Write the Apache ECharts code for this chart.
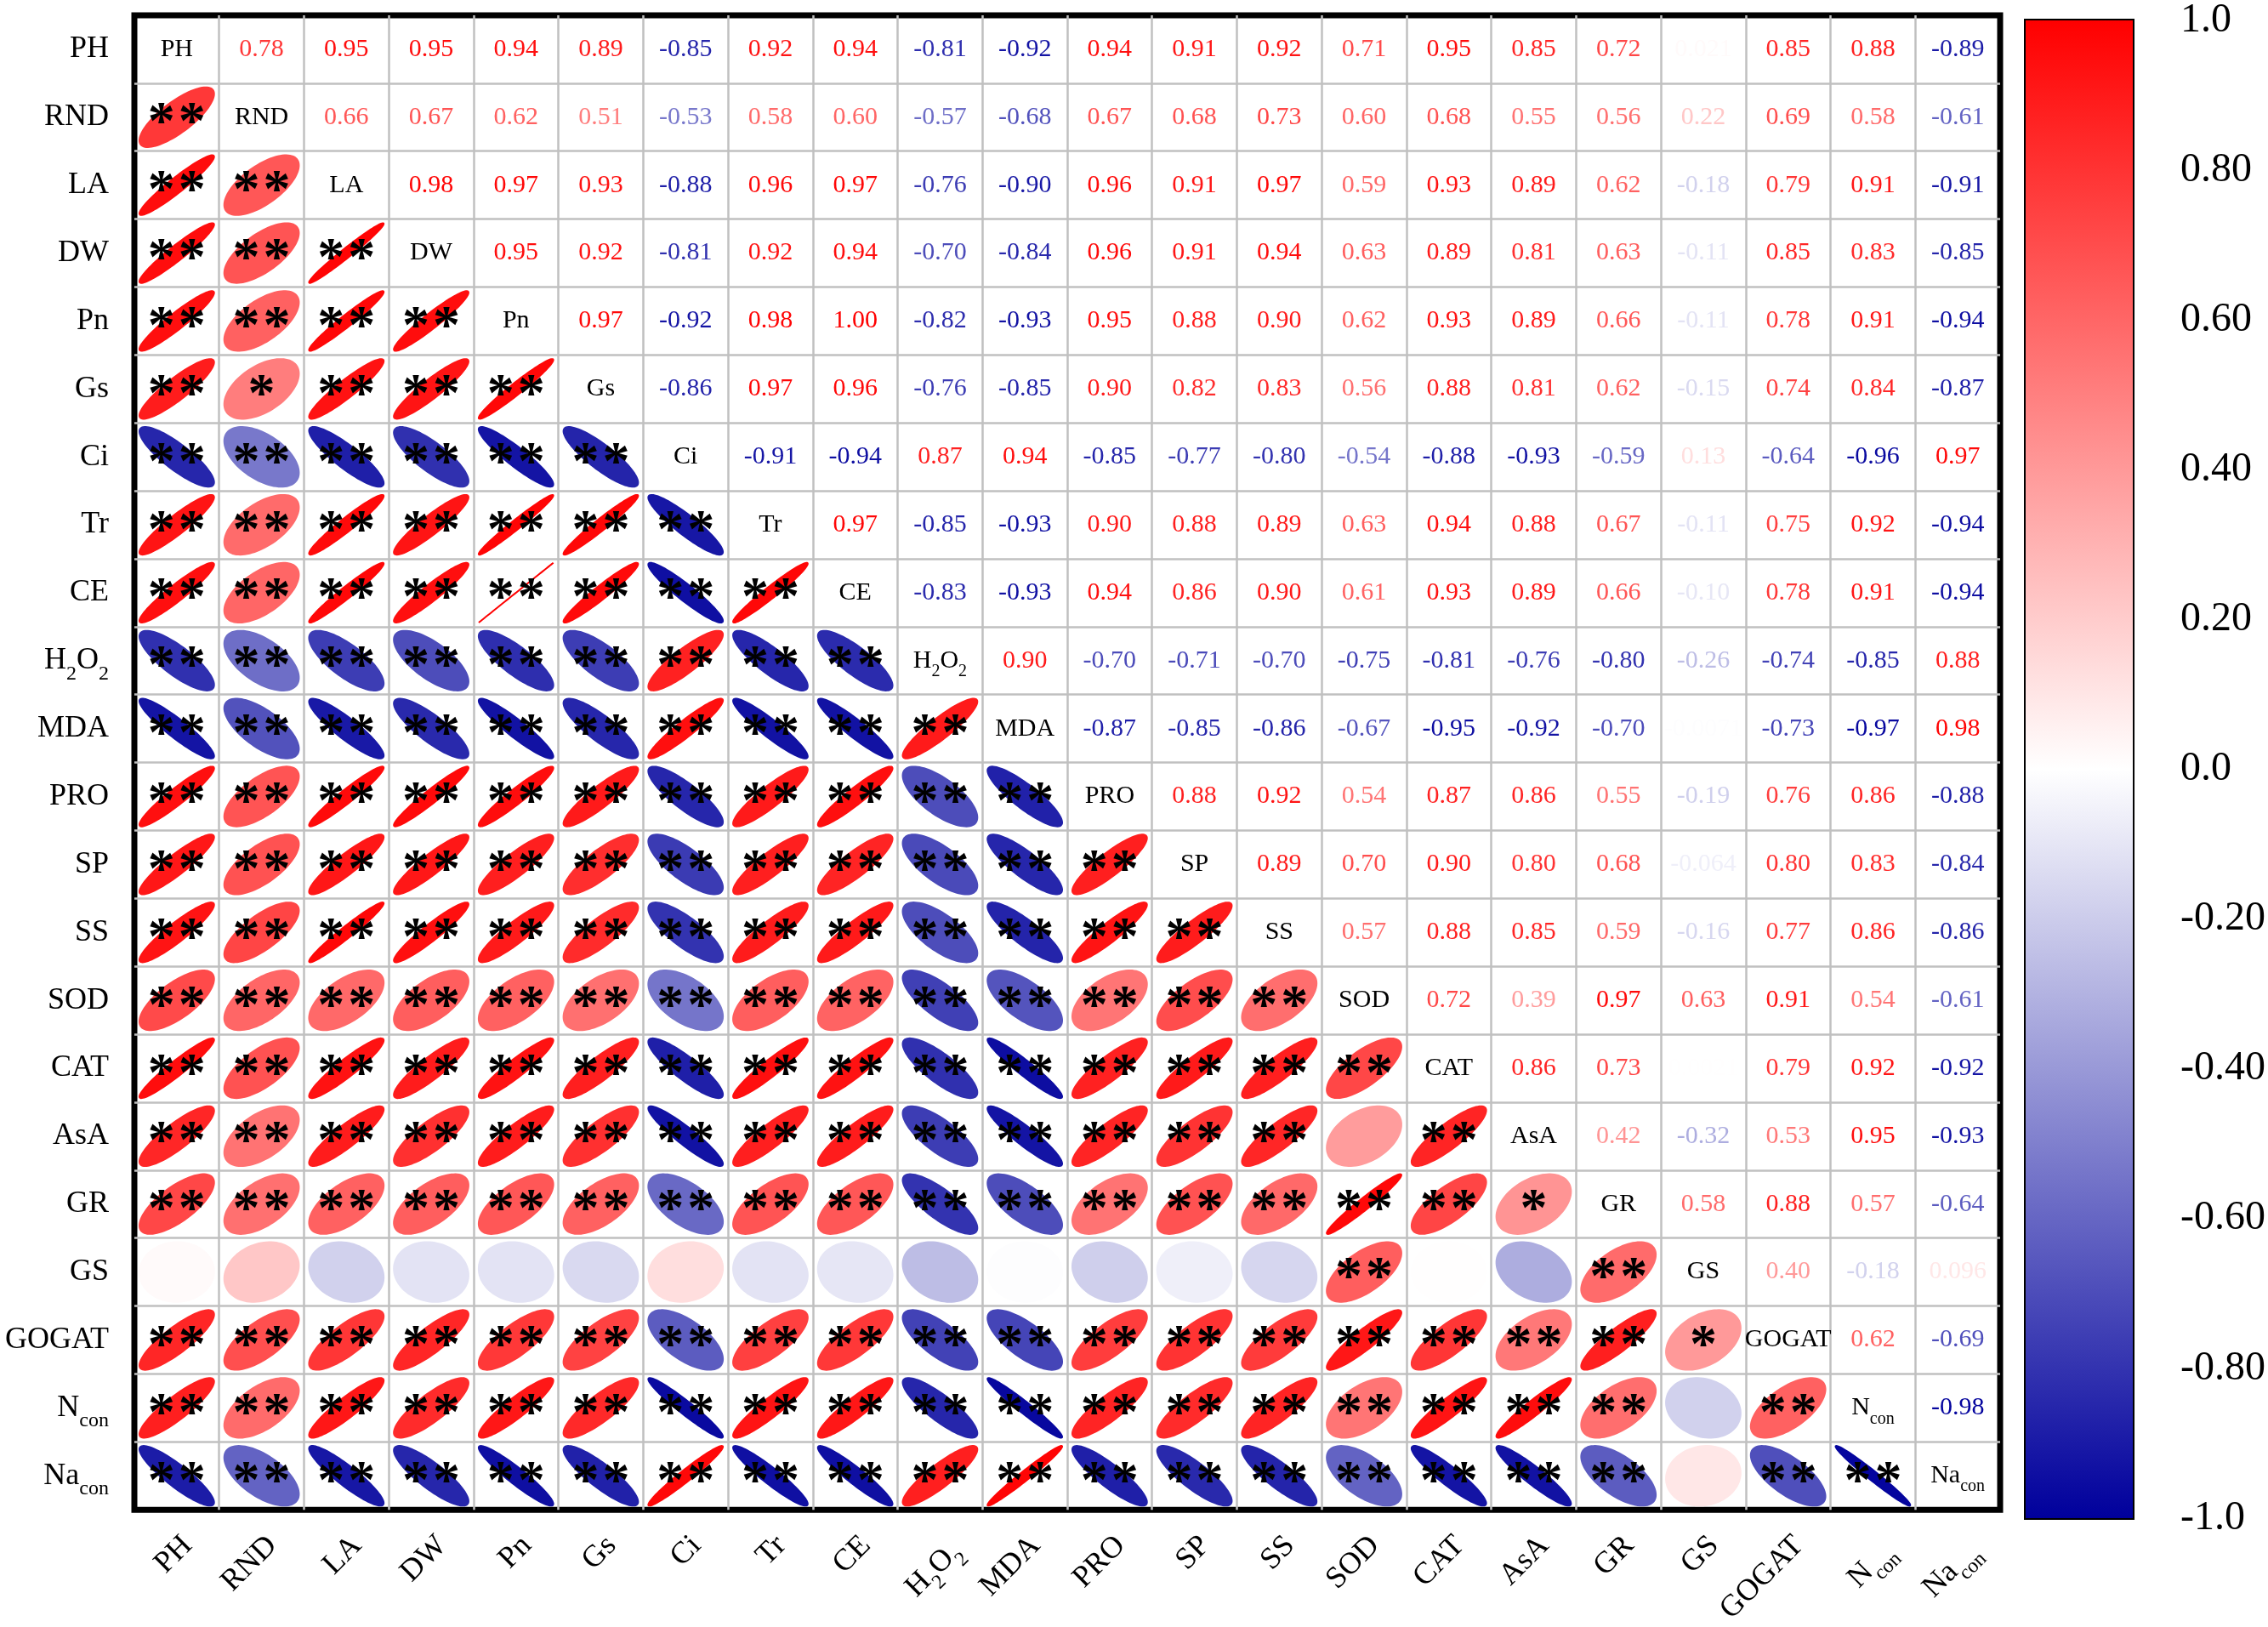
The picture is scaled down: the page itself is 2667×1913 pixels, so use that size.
<!DOCTYPE html>
<html>
<head>
<meta charset="utf-8">
<title>Correlation matrix</title>
<script src="https://cdn.jsdelivr.net/npm/echarts@6/dist/echarts.min.js"></script>
<style>
    html, body { margin: 0; padding: 0; background: #fff; }
    #main { width: 2667px; height: 1913px; }
</style>
</head>
<body>
<div id="main"></div>
<script>
// variables, in matrix order
var names = ['PH','RND','LA','DW','Pn','Gs','Ci','Tr','CE','H2O2','MDA','PRO','SP','SS','SOD','CAT','AsA','GR','GS','GOGAT','Ncon','Nacon'];
// labels that need subscripts
var richNames = { H2O2: '{n|H}{s|2}{n|O}{s|2}', Ncon: '{n|N}{s|con}', Nacon: '{n|Na}{s|con}' };

// correlations right of the diagonal, one array per row
var rPH    = [0.78,0.95,0.95,0.94,0.89,-0.85,0.92,0.94,-0.81,-0.92,0.94,0.91,0.92,0.71,0.95,0.85,0.72,0.021,0.85,0.88,-0.89];
var rRND   = [0.66,0.67,0.62,0.51,-0.53,0.58,0.60,-0.57,-0.68,0.67,0.68,0.73,0.60,0.68,0.55,0.56,0.22,0.69,0.58,-0.61];
var rLA    = [0.98,0.97,0.93,-0.88,0.96,0.97,-0.76,-0.90,0.96,0.91,0.97,0.59,0.93,0.89,0.62,-0.18,0.79,0.91,-0.91];
var rDW    = [0.95,0.92,-0.81,0.92,0.94,-0.70,-0.84,0.96,0.91,0.94,0.63,0.89,0.81,0.63,-0.11,0.85,0.83,-0.85];
var rPn    = [0.97,-0.92,0.98,1.00,-0.82,-0.93,0.95,0.88,0.90,0.62,0.93,0.89,0.66,-0.11,0.78,0.91,-0.94];
var rGs    = [-0.86,0.97,0.96,-0.76,-0.85,0.90,0.82,0.83,0.56,0.88,0.81,0.62,-0.15,0.74,0.84,-0.87];
var rCi    = [-0.91,-0.94,0.87,0.94,-0.85,-0.77,-0.80,-0.54,-0.88,-0.93,-0.59,0.13,-0.64,-0.96,0.97];
var rTr    = [0.97,-0.85,-0.93,0.90,0.88,0.89,0.63,0.94,0.88,0.67,-0.11,0.75,0.92,-0.94];
var rCE    = [-0.83,-0.93,0.94,0.86,0.90,0.61,0.93,0.89,0.66,-0.10,0.78,0.91,-0.94];
var rH2O2  = [0.90,-0.70,-0.71,-0.70,-0.75,-0.81,-0.76,-0.80,-0.26,-0.74,-0.85,0.88];
var rMDA   = [-0.87,-0.85,-0.86,-0.67,-0.95,-0.92,-0.70,-0.0071,-0.73,-0.97,0.98];
var rPRO   = [0.88,0.92,0.54,0.87,0.86,0.55,-0.19,0.76,0.86,-0.88];
var rSP    = [0.89,0.70,0.90,0.80,0.68,-0.064,0.80,0.83,-0.84];
var rSS    = [0.57,0.88,0.85,0.59,-0.16,0.77,0.86,-0.86];
var rSOD   = [0.72,0.39,0.97,0.63,0.91,0.54,-0.61];
var rCAT   = [0.86,0.73,0.0021,0.79,0.92,-0.92];
var rAsA   = [0.42,-0.32,0.53,0.95,-0.93];
var rGR    = [0.58,0.88,0.57,-0.64];
var rGS    = [0.40,-0.18,0.096];
var rGOGAT = [0.62,-0.69];
var rNcon  = [-0.98];

var upperRows = [rPH,rRND,rLA,rDW,rPn,rGs,rCi,rTr,rCE,rH2O2,rMDA,rPRO,rSP,rSS,rSOD,rCAT,rAsA,rGR,rGS,rGOGAT,rNcon];

// |r| limits for * and **
var starLimits = [0.40, 0.52];
// colour bar range
var barRange = [-1, 1];

var upperData = [], lowerData = [], diagData = [];
names.forEach(function (n, i) { diagData.push([i, i]); });
for (var i = 0; i < upperRows.length; i++) {
    for (var j = i + 1; j < names.length; j++) {
        var v = upperRows[i][j - i - 1];
        upperData.push([j, i, v]);   // number above diagonal
        lowerData.push([i, j, v]);   // ellipse below diagonal
    }
}

var serif = 'Liberation Serif';

function fmt(v) {
    return Math.abs(v) >= 0.1 ? v.toFixed(2) : v.toPrecision(2);
}
function richLabel(n) {
    return richNames[n] || ('{n|' + n + '}');
}
// subscript pushed down with top padding
function richStyle(size) {
    var sub = Math.round(size * 0.68);
    return {
        n: { fontFamily: serif, fontSize: size, color: '#000' },
        s: { fontFamily: serif, fontSize: sub, color: '#000', padding: [Math.round(size * 0.85), 0, 0, 0] }
    };
}

function renderEllipse(params, api) {
    var r = api.value(2);
    var c = api.coord([api.value(0), api.value(1)]);
    var sz = api.size([1, 1]);
    var hw = sz[0] / 2 * 0.88, hh = sz[1] / 2 * 0.88;
    var d = Math.acos(Math.max(-1, Math.min(1, r)));
    var pts = [];
    for (var k = 0; k < 90; k++) {
        var t = 2 * Math.PI * k / 90;
        pts.push([c[0] + Math.cos(t + d / 2) * hw, c[1] - Math.cos(t - d / 2) * hh]);
    }
    var color = api.visual('color');
    var kids = [{
        type: 'polygon',
        shape: { points: pts },
        style: { fill: color, stroke: color, lineWidth: 2 }
    }];
    var a = Math.abs(r);
    var n = a >= starLimits[1] ? 2 : (a >= starLimits[0] ? 1 : 0);
    var xs = n === 2 ? [c[0] - 18, c[0] + 18] : (n === 1 ? [c[0]] : []);
    xs.forEach(function (x) {
        kids.push({
            type: 'text', x: x, y: c[1] + 9,
            style: { text: '*', fill: '#000', fontFamily: serif, fontWeight: 'bold', fontSize: 64,
                     align: 'center', verticalAlign: 'middle' }
        });
    });
    return { type: 'group', children: kids };
}

function renderValue(params, api) {
    var c = api.coord([api.value(0), api.value(1)]);
    return {
        type: 'text', x: c[0], y: c[1],
        style: { text: fmt(api.value(2)), fill: api.visual('color'), fontFamily: serif, fontSize: 30,
                 align: 'center', verticalAlign: 'middle' }
    };
}

function renderDiag(params, api) {
    var c = api.coord([api.value(0), api.value(1)]);
    return {
        type: 'text', x: c[0], y: c[1],
        style: { text: richLabel(names[api.value(0)]), rich: richStyle(30), fill: '#000',
                 fontFamily: serif, fontSize: 30, align: 'center', verticalAlign: 'middle' }
    };
}

function renderBar(params, api) {
    var p0 = api.coord([0, barRange[1]]);
    var p1 = api.coord([1, barRange[0]]);
    return {
        type: 'rect',
        shape: { x: p0[0], y: p0[1], width: p1[0] - p0[0], height: p1[1] - p0[1] },
        style: {
            fill: new echarts.graphic.LinearGradient(0, 0, 0, 1, [
                { offset: 0, color: '#ff0000' },
                { offset: 0.5, color: '#ffffff' },
                { offset: 1, color: '#00009c' }
            ])
        }
    };
}

var chart = echarts.init(document.getElementById('main'));

var option = {
    backgroundColor: '#fff',
    animation: false,
    grid: [
        { left: 158, top: 18, width: 2194, height: 1767, show: true, borderColor: '#000', borderWidth: 7 },
        { left: 2382, top: 17, width: 130, height: 1768, show: true, borderColor: '#000', borderWidth: 4 }
    ],
    xAxis: [
        {
            type: 'category', gridIndex: 0, data: names, position: 'bottom',
            axisLine: { show: false }, axisTick: { show: false },
            splitLine: { show: true, interval: 0, showMinLine: false, showMaxLine: false,
                         lineStyle: { color: '#c0c0c0', width: 2.5 } },
            axisLabel: {
                interval: 0, rotate: 45, margin: 24, verticalAlign: 'top',
                fontFamily: serif, fontSize: 36, color: '#000',
                formatter: richLabel, rich: richStyle(36)
            }
        },
        { type: 'value', gridIndex: 1, min: 0, max: 1, show: false }
    ],
    yAxis: [
        {
            type: 'category', gridIndex: 0, data: names, inverse: true,
            axisLine: { show: false }, axisTick: { show: false },
            splitLine: { show: true, interval: 0, showMinLine: false, showMaxLine: false,
                         lineStyle: { color: '#c0c0c0', width: 2.5 } },
            axisLabel: {
                interval: 0, margin: 30,
                fontFamily: serif, fontSize: 36, color: '#000',
                formatter: richLabel, rich: richStyle(36)
            }
        },
        {
            type: 'value', gridIndex: 1, position: 'right', min: barRange[0], max: barRange[1], interval: 0.2,
            axisLine: { show: false },
            axisTick: { show: true, length: 32, lineStyle: { color: '#000', width: 3 } },
            splitLine: { show: false },
            axisLabel: {
                margin: 56, fontFamily: serif, fontSize: 48, color: '#000',
                showMinLabel: true, showMaxLabel: true,
                formatter: function (v) {
                    if (Math.abs(v) < 1e-9) return '0.0';
                    if (Math.abs(Math.abs(v) - 1) < 1e-9) return v.toFixed(1);
                    return v.toFixed(2);
                }
            }
        }
    ],
    visualMap: {
        show: false, type: 'continuous', min: -1, max: 1, dimension: 2, seriesIndex: [0, 1],
        inRange: { color: ['#00009c', '#ffffff', '#ff0000'] }
    },
    series: [
        { name: 'ellipse', type: 'custom', xAxisIndex: 0, yAxisIndex: 0, renderItem: renderEllipse, data: lowerData },
        { name: 'value', type: 'custom', xAxisIndex: 0, yAxisIndex: 0, renderItem: renderValue, data: upperData },
        { name: 'diag', type: 'custom', xAxisIndex: 0, yAxisIndex: 0, renderItem: renderDiag, data: diagData },
        { name: 'bar', type: 'custom', xAxisIndex: 1, yAxisIndex: 1, renderItem: renderBar, data: [[0, barRange[0]]] }
    ]
};

chart.setOption(option);
</script>
</body>
</html>
